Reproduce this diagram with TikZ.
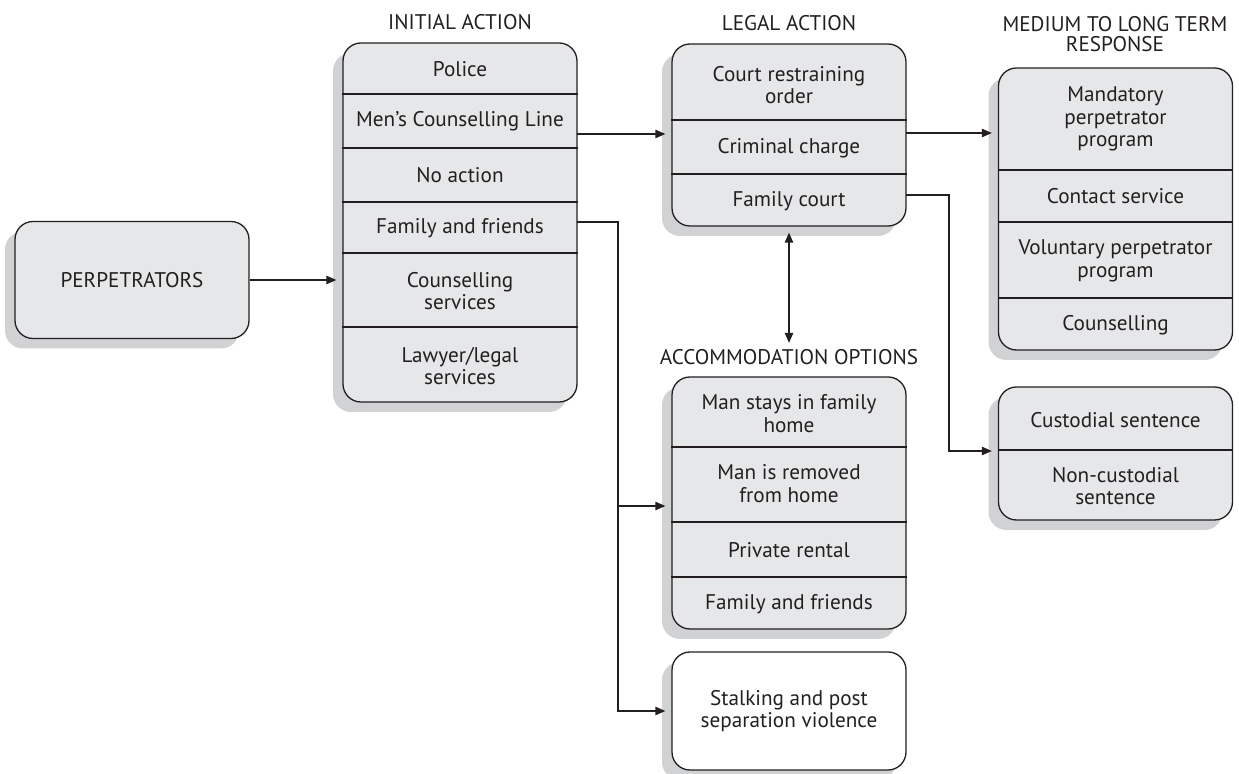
\documentclass[tikz,border=0pt]{standalone}
\usepackage{fontspec}
\setmainfont{PT Sans}
\usetikzlibrary{arrows.meta,shadows}

\definecolor{boxgray}{HTML}{E6E7E8}
\definecolor{shadowgray}{HTML}{D1D2D4}
\definecolor{ink}{HTML}{231F20}

\tikzset{
  panel/.style={draw=ink, line width=0.65pt, fill=boxgray, rounded corners=9pt,
    inner sep=0pt, minimum width=117pt, text=ink, align=center,
    font=\fontsize{10.6}{11.4}\selectfont,
    drop shadow={shadow xshift=-5pt, shadow yshift=-5pt, fill=shadowgray, opacity=1}},
  item/.style={text=ink, align=center, inner sep=0pt, font=\fontsize{10.6}{11.4}\selectfont},
  heading/.style={item, font=\fontsize{10.6}{9.6}\selectfont},
  divider/.style={draw=ink, line width=0.65pt},
  link/.style={draw=ink, line width=0.65pt, -{Triangle[length=5pt,width=4.2pt]}, shorten >=3pt},
  twoway/.style={link, {Triangle[length=5pt,width=4.2pt]}-{Triangle[length=5pt,width=4.2pt]}, shorten <=3pt},
}

\begin{document}
\begin{tikzpicture}[x=0.5pt, y=-0.5pt]
\useasboundingbox (0,0) rectangle (1239,774);

% panels
\node[panel, minimum height=58.5pt] (perp) at (132,280) {PERPETRATORS};
\node[panel, minimum height=179.5pt] (initial) at (460,222.5) {};
\node[panel, minimum height=91pt] (legal) at (789,135) {};
\node[panel, minimum height=141pt] (medium) at (1115.5,209) {};
\node[panel, minimum height=126pt] (accomm) at (789,503) {};
\node[panel, minimum height=66.5pt] (custodial) at (1115.5,453.5) {};
\node[panel, minimum height=59pt, fill=white] (stalking) at (789,711) {Stalking and post\\separation violence};

\foreach \b/\y in {initial/94, initial/148, initial/202, initial/253, initial/327,
                   legal/120, legal/174,
                   medium/170, medium/222, medium/298,
                   accomm/447, accomm/522, accomm/577,
                   custodial/450}
    \draw[divider] (\b.west |- 0,\y) -- (\b.east |- 0,\y);

% headings
\node[heading] (initialtitle) at (460,22) {INITIAL ACTION};
\node[heading] (legaltitle) at (789,23) {LEGAL ACTION};
\node[heading] (mediumtitle) at (1115,34) {MEDIUM TO LONG TERM\\RESPONSE};
\node[heading] (accommtitle) at (789,357) {ACCOMMODATION OPTIONS};

% initial action
\node[item] (police) at (460,69) {Police};
\node[item] (mens) at (460,121) {Men’s Counselling Line};
\node[item] (noaction) at (460,175) {No action};
\node[item] (family) at (460,228) {Family and friends};
\node[item] (counselling) at (460,291) {Counselling\\services};
\node[item] (lawyer) at (460,366) {Lawyer/legal\\services};

% legal action
\node[item] (restraining) at (789,85) {Court restraining\\order};
\node[item] (criminal) at (789,148) {Criminal charge};
\node[item] (familycourt) at (789,201) {Family court};

% medium to long term
\node[item] (mandatory) at (1115.5,119) {Mandatory\\perpetrator\\program};
\node[item] (contact) at (1115.5,196) {Contact service};
\node[item] (voluntary) at (1115.5,261) {Voluntary perpetrator\\program};
\node[item] (counsel) at (1115.5,325) {Counselling};

% accommodation
\node[item] (stays) at (789,414) {Man stays in family\\home};
\node[item] (removed) at (789,484) {Man is removed\\from home};
\node[item] (rental) at (789,550) {Private rental};
\node[item] (friends) at (789,604) {Family and friends};

% sentences
\node[item] (custsent) at (1115.5,420) {Custodial sentence};
\node[item] (noncust) at (1115.5,486) {Non-custodial\\sentence};

% connectors
\coordinate (outA) at (577,134);
\coordinate (outB) at (906,133);
\coordinate (outC) at (577,222);
\coordinate (outD) at (906,195);
\coordinate (branch) at (618,506);
\coordinate (bend) at (949,451);

\draw[link] (perp.east) -- (perp.east -| initial.west);
\draw[link] (outA) -- (outA -| legal.west);
\draw[link] (outB) -- (outB -| medium.west);
\draw[link] (outC) -| (branch) |- (stalking.west);
\draw[link] (branch) -- (branch -| accomm.west);
\draw[link] (outD) -| (bend) -- (bend -| custodial.west);
\draw[twoway] (legal.south) -- (accommtitle.north);

\end{tikzpicture}
\end{document}
